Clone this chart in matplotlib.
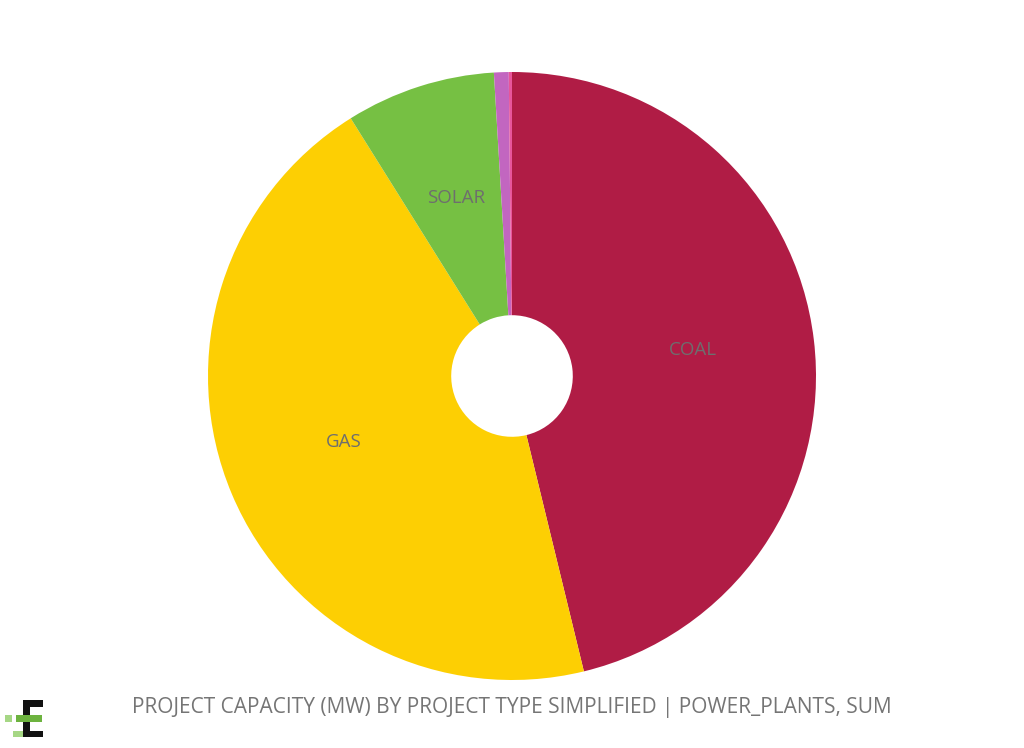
import matplotlib.pyplot as plt
from matplotlib.patches import Rectangle

# project capacity share (MW) by type, clockwise from top
types = ['COAL', 'GAS', 'SOLAR', 'OTHER', 'OTHER2']
capacity = [46.2, 44.9, 7.95, 0.78, 0.17]
labels = ['COAL', 'GAS', 'SOLAR', '', '']
colors = ['#B01C45', '#FDCF03', '#76C043', '#C266C0', '#E8559A']

plt.rcParams['font.family'] = ['Open Sans', 'DejaVu Sans']

W, H = 1024, 748
fig = plt.figure(figsize=(W / 100, H / 100), dpi=100)
fig.patch.set_facecolor('white')

# pie centre ~ (512, 376) px, radius ~304 px
ax = fig.add_axes([208 / W, 68 / H, 608 / W, 608 / H])
wedges, texts = ax.pie(capacity, labels=labels, colors=colors,
                       startangle=90, counterclock=False,
                       labeldistance=0.6,
                       wedgeprops=dict(width=0.8, edgecolor='none'),
                       textprops=dict(color='#6E6E6E', fontsize=13.5))
for t in texts:
    t.set_ha('center')
    t.set_va('center')
    x, y = t.get_position()
    t.set_position((x, y + 0.015))
ax.set_xlim(-1, 1)
ax.set_ylim(-1, 1)
ax.axis('off')

fig.text(512 / W, 1 - 707 / H,
         'PROJECT CAPACITY (MW) BY PROJECT TYPE SIMPLIFIED | POWER_PLANTS, SUM',
         ha='center', va='center', fontsize=15, color='#757575')

# little logo bottom-left, boxes in pixel coords (x0, y0, x1, y1)
logo = [
    (23, 700, 43, 707, '#111111'),
    (23, 700, 29.5, 737, '#111111'),
    (29, 731, 43, 737, '#111111'),
    (16, 715, 42, 722, '#6DB33F'),
    (5, 715, 11.5, 722, '#A6D785'),
    (13, 731, 22.5, 737, '#A6D785'),
]
for x0, y0, x1, y1, c in logo:
    fig.add_artist(Rectangle((x0 / W, 1 - y1 / H), (x1 - x0) / W, (y1 - y0) / H,
                             transform=fig.transFigure, color=c, lw=0))

fig.savefig('out.png', dpi=100, facecolor='white')
